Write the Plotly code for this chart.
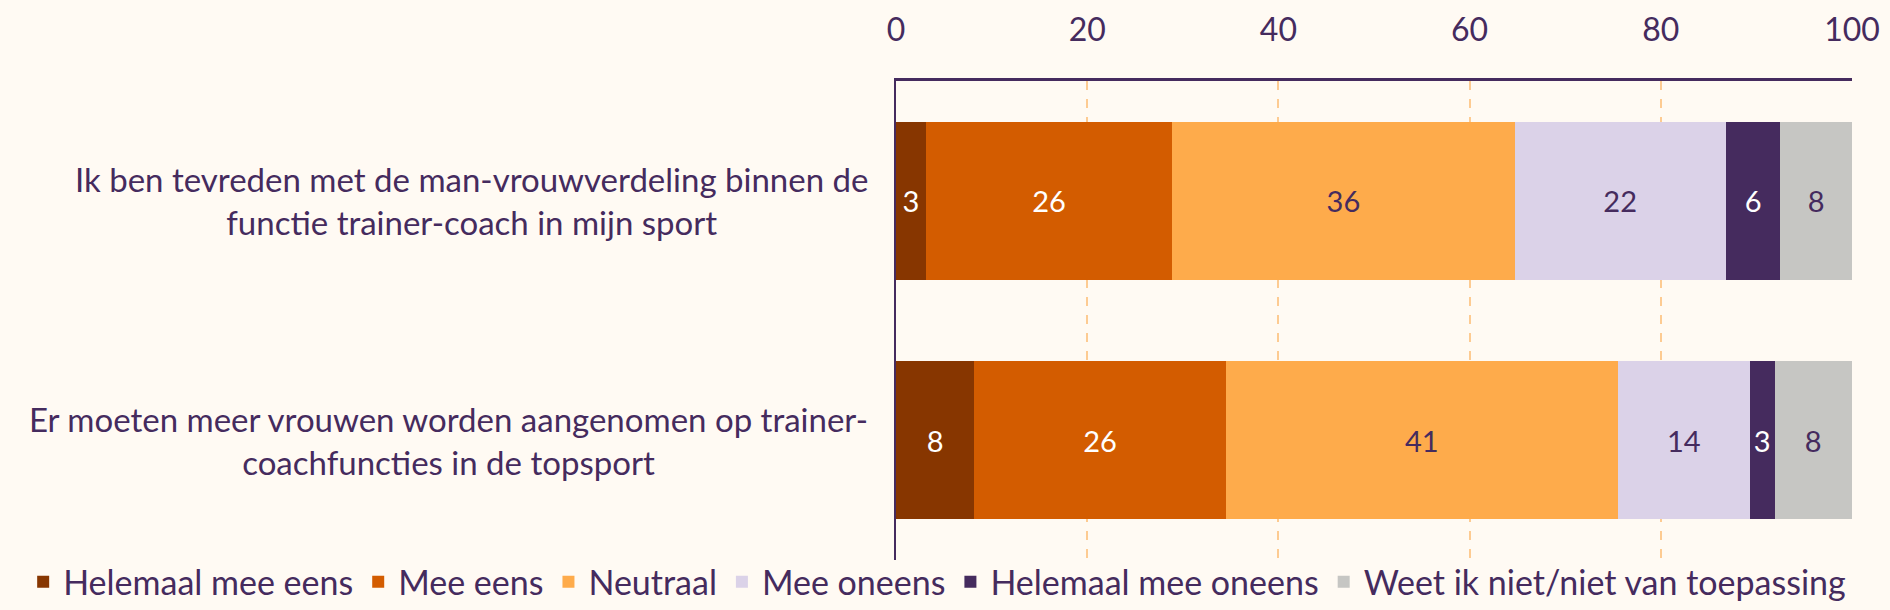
import plotly.graph_objects as go

# stellingen (categorieen)
statements = [
    "Ik ben tevreden met de man-vrouwverdeling binnen de<br>functie trainer-coach in mijn sport",
    "Er moeten meer vrouwen worden aangenomen op trainer-<br>coachfuncties in de topsport",
]

answers = [
    "Helemaal mee eens",
    "Mee eens",
    "Neutraal",
    "Mee oneens",
    "Helemaal mee oneens",
    "Weet ik niet/niet van toepassing",
]

# percentages per antwoord, per stelling
helemaal_eens = [3.1, 8.2]
mee_eens = [25.8, 26.3]
neutraal = [35.8, 41.0]
mee_oneens = [22.1, 13.8]
helemaal_oneens = [5.7, 2.6]
weet_niet = [7.5, 8.1]

series = [helemaal_eens, mee_eens, neutraal, mee_oneens, helemaal_oneens, weet_niet]

x_ticks = [0, 20, 40, 60, 80, 100]

colors = ['#873600', '#D35C00', '#FEAB4B', '#DBD2E8', '#452B5E', '#C6C6C3']
text_colors = ['white', 'white', '#452B5E', '#452B5E', 'white', '#452B5E']

purple = '#452B5E'
bg = '#FFFAF3'
font_family = 'Lato'

fig = go.Figure()
for name, vals, col, tcol in zip(answers, series, colors, text_colors):
    fig.add_trace(
        go.Bar(
            y=statements,
            x=vals,
            orientation='h',
            name=name,
            marker=dict(color=col, line=dict(width=0)),
            text=vals,
            texttemplate='%{x:.0f}',
            textposition='inside',
            insidetextanchor='middle',
            textangle=0,
            textfont=dict(family=font_family, size=29, color=tcol),
            hoverinfo='skip',
        )
    )

# categorie-labels, gecentreerd per regel
for s in statements:
    fig.add_annotation(
        x=0,
        xref='paper',
        y=s,
        yref='y',
        text=s,
        showarrow=False,
        xanchor='right',
        yanchor='middle',
        align='center',
        xshift=-26,
        font=dict(family=font_family, size=33, color=purple),
    )

fig.update_layout(
    barmode='stack',
    bargap=0.34,
    width=1890,
    height=610,
    paper_bgcolor=bg,
    plot_bgcolor=bg,
    margin=dict(l=896, r=38, t=81, b=50, autoexpand=False),
    uniformtext=dict(minsize=29, mode='show'),
    font=dict(family=font_family, color=purple),
    xaxis=dict(
        side='top',
        range=[0, 100],
        tickvals=x_ticks,
        ticks='outside',
        ticklen=24,
        tickcolor='rgba(0,0,0,0)',
        tickfont=dict(family=font_family, size=32, color=purple),
        showgrid=True,
        gridcolor='#FDCB92',
        gridwidth=2,
        griddash='dash',
        showline=True,
        linecolor=purple,
        linewidth=3,
        zeroline=False,
        fixedrange=True,
    ),
    yaxis=dict(
        autorange='reversed',
        showticklabels=False,
        showline=True,
        linecolor=purple,
        linewidth=2,
        showgrid=False,
        zeroline=False,
        fixedrange=True,
    ),
    showlegend=True,
    legend=dict(
        orientation='h',
        traceorder='normal',
        xref='paper',
        x=-0.913,
        xanchor='left',
        yref='paper',
        y=-0.046,
        yanchor='middle',
        font=dict(family=font_family, size=34, color=purple),
        bgcolor='rgba(0,0,0,0)',
        itemclick=False,
        itemdoubleclick=False,
        tracegroupgap=0,
    ),
)

fig.write_html(
    "out.html",
    config={'displayModeBar': False},
    post_script="document.body.style.margin='0';document.body.style.background='#FFFAF3';",
)
